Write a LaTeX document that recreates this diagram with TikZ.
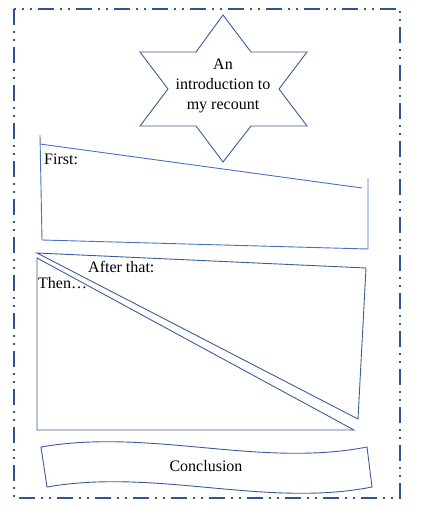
\documentclass[tikz,border=0pt]{standalone}
\usepackage{fontspec}
\setmainfont{Liberation Serif}
\begin{document}
\begin{tikzpicture}[x=1pt,y=-1pt,
  frame/.style={draw=frameblue,line width=2.2pt,dash pattern=on 16pt off 6pt on 2pt off 6pt on 2pt off 6pt},
  shapeA/.style={draw=lightblue,line width=0.9pt},
  shapeB/.style={draw=darkblue,line width=0.9pt},
  txt/.style={font=\fontsize{16}{20}\selectfont,inner sep=0pt}]
\definecolor{frameblue}{HTML}{2F5496}
\definecolor{lightblue}{HTML}{4472C4}
\definecolor{darkblue}{HTML}{3B5C9C}
\useasboundingbox (0,0) rectangle (438,516);
% frame
\draw[frame] (14,9) rectangle (400,498);
% star
\draw[shapeB] (223,15) -- (251,52) -- (307,52) -- (279,89) -- (307,126) -- (251,126)
  -- (223,162) -- (196,126) -- (140,126) -- (168,89) -- (140,52) -- (196,52) -- cycle;
\node[txt,align=center] (intro) at (223,86) {An\\introduction to\\my recount};
% first box
\draw[shapeA] (40,135) -- (42,240) -- (368,249) -- (368,178);
\draw[shapeA] (40,144) -- (362,188);
\node[txt,anchor=west] (first) at (44,159) {First:};
% after that / then triangles
\draw[shapeB] (37,253) -- (366,268) -- (358,419) -- cycle;
\draw[shapeB] (37,258) -- (37,430) -- (354,430) -- cycle;
\node[txt,anchor=west] (after) at (88,267) {After that:};
\node[txt,anchor=west] (then) at (38,283) {Then…};
% conclusion banner
\draw[shapeB] (41,447) .. controls (150,428) and (260,468) .. (367,447)
  -- (372,487) .. controls (266,508) and (156,468) .. (47,487) -- cycle;
\node[txt] (concl) at (206,466) {Conclusion};
\end{tikzpicture}
\end{document}
